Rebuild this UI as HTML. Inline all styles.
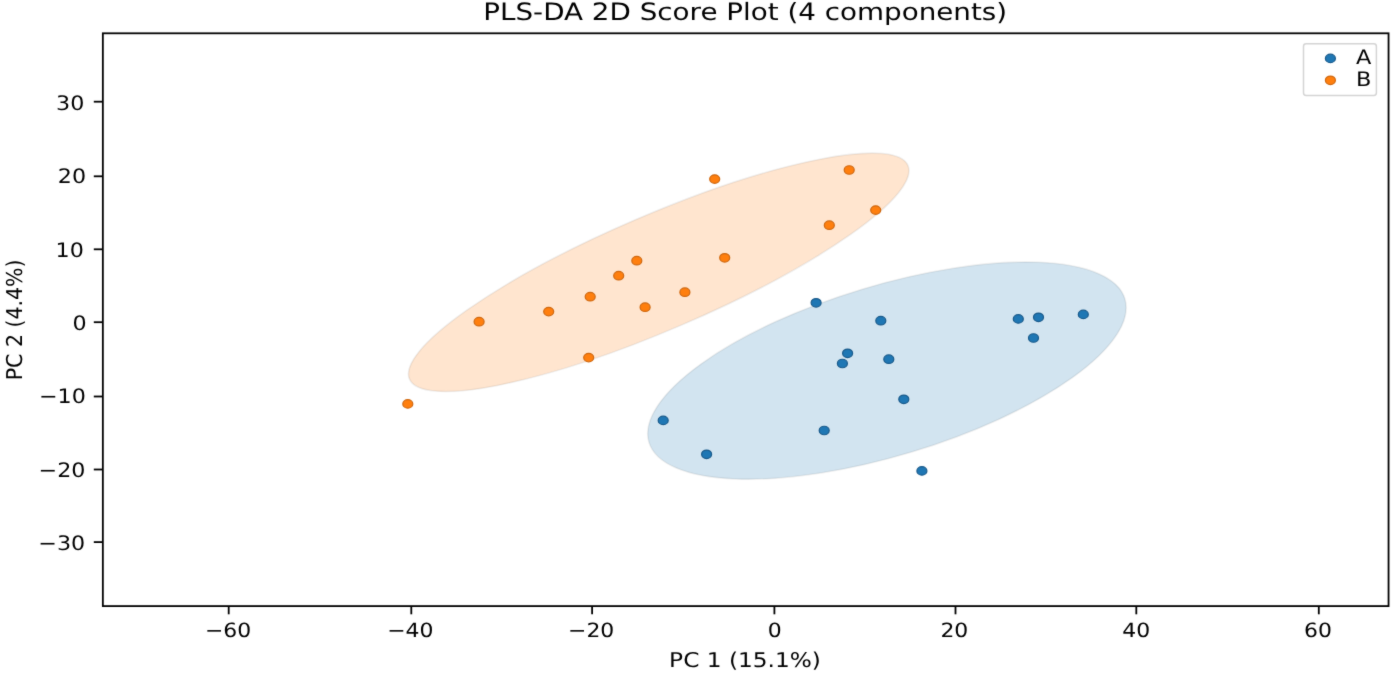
<!DOCTYPE html>
<html><head><meta charset="utf-8"><title>PLS-DA 2D Score Plot</title>
<style>
html,body{margin:0;padding:0;background:#fff;overflow:hidden}
svg{display:block}
.t{font-family:"DejaVu Sans","Liberation Sans",sans-serif;font-size:20.0px;fill:#000;text-rendering:geometricPrecision}
</style></head><body>
<svg width="1397" height="673" viewBox="0 0 1397 673">
<defs><filter id="soft" filterUnits="userSpaceOnUse" x="-10" y="-10" width="1417" height="693" color-interpolation-filters="sRGB"><feConvolveMatrix order="3" kernelMatrix="0.02 0.07 0.02 0.07 0.64 0.07 0.02 0.07 0.02" divisor="1" edgeMode="duplicate" preserveAlpha="true"/></filter></defs>
<g filter="url(#soft)">
<rect x="-10" y="-10" width="1417" height="693" fill="#fff"/>
<ellipse cx="658.72" cy="272.29" rx="271.13" ry="57.47" transform="rotate(156.80 658.72 272.29)" fill="#ff7f0e" fill-opacity="0.2" stroke="#000" stroke-opacity="0.07" stroke-width="1.6"/>
<ellipse cx="886.94" cy="370.62" rx="248.52" ry="85.04" transform="rotate(163.22 886.94 370.62)" fill="#1f77b4" fill-opacity="0.2" stroke="#000" stroke-opacity="0.07" stroke-width="1.6"/>
<ellipse cx="816.1" cy="302.8" rx="5.0" ry="4.25" fill="#1f77b4" stroke="#18598a" stroke-width="1.2"/>
<ellipse cx="880.8" cy="320.7" rx="5.0" ry="4.25" fill="#1f77b4" stroke="#18598a" stroke-width="1.2"/>
<ellipse cx="847.6" cy="353.3" rx="5.0" ry="4.25" fill="#1f77b4" stroke="#18598a" stroke-width="1.2"/>
<ellipse cx="842.4" cy="363.5" rx="5.0" ry="4.25" fill="#1f77b4" stroke="#18598a" stroke-width="1.2"/>
<ellipse cx="888.8" cy="359.2" rx="5.0" ry="4.25" fill="#1f77b4" stroke="#18598a" stroke-width="1.2"/>
<ellipse cx="903.8" cy="399.3" rx="5.0" ry="4.25" fill="#1f77b4" stroke="#18598a" stroke-width="1.2"/>
<ellipse cx="663.2" cy="420.4" rx="5.0" ry="4.25" fill="#1f77b4" stroke="#18598a" stroke-width="1.2"/>
<ellipse cx="706.6" cy="454.3" rx="5.0" ry="4.25" fill="#1f77b4" stroke="#18598a" stroke-width="1.2"/>
<ellipse cx="824.2" cy="430.5" rx="5.0" ry="4.25" fill="#1f77b4" stroke="#18598a" stroke-width="1.2"/>
<ellipse cx="921.9" cy="470.9" rx="5.0" ry="4.25" fill="#1f77b4" stroke="#18598a" stroke-width="1.2"/>
<ellipse cx="1018.3" cy="318.9" rx="5.0" ry="4.25" fill="#1f77b4" stroke="#18598a" stroke-width="1.2"/>
<ellipse cx="1038.5" cy="317.3" rx="5.0" ry="4.25" fill="#1f77b4" stroke="#18598a" stroke-width="1.2"/>
<ellipse cx="1033.5" cy="338.0" rx="5.0" ry="4.25" fill="#1f77b4" stroke="#18598a" stroke-width="1.2"/>
<ellipse cx="1083.3" cy="314.4" rx="5.0" ry="4.25" fill="#1f77b4" stroke="#18598a" stroke-width="1.2"/>
<ellipse cx="407.8" cy="403.9" rx="5.0" ry="4.25" fill="#ff7f0e" stroke="#cf670f" stroke-width="1.2"/>
<ellipse cx="479.1" cy="321.7" rx="5.0" ry="4.25" fill="#ff7f0e" stroke="#cf670f" stroke-width="1.2"/>
<ellipse cx="548.7" cy="311.6" rx="5.0" ry="4.25" fill="#ff7f0e" stroke="#cf670f" stroke-width="1.2"/>
<ellipse cx="590.2" cy="296.7" rx="5.0" ry="4.25" fill="#ff7f0e" stroke="#cf670f" stroke-width="1.2"/>
<ellipse cx="588.7" cy="357.6" rx="5.0" ry="4.25" fill="#ff7f0e" stroke="#cf670f" stroke-width="1.2"/>
<ellipse cx="636.8" cy="260.7" rx="5.0" ry="4.25" fill="#ff7f0e" stroke="#cf670f" stroke-width="1.2"/>
<ellipse cx="618.7" cy="275.7" rx="5.0" ry="4.25" fill="#ff7f0e" stroke="#cf670f" stroke-width="1.2"/>
<ellipse cx="684.9" cy="292.2" rx="5.0" ry="4.25" fill="#ff7f0e" stroke="#cf670f" stroke-width="1.2"/>
<ellipse cx="645.1" cy="307.2" rx="5.0" ry="4.25" fill="#ff7f0e" stroke="#cf670f" stroke-width="1.2"/>
<ellipse cx="724.7" cy="257.8" rx="5.0" ry="4.25" fill="#ff7f0e" stroke="#cf670f" stroke-width="1.2"/>
<ellipse cx="714.7" cy="179.1" rx="5.0" ry="4.25" fill="#ff7f0e" stroke="#cf670f" stroke-width="1.2"/>
<ellipse cx="849.2" cy="170.0" rx="5.0" ry="4.25" fill="#ff7f0e" stroke="#cf670f" stroke-width="1.2"/>
<ellipse cx="875.7" cy="210.1" rx="5.0" ry="4.25" fill="#ff7f0e" stroke="#cf670f" stroke-width="1.2"/>
<ellipse cx="829.3" cy="225.2" rx="5.0" ry="4.25" fill="#ff7f0e" stroke="#cf670f" stroke-width="1.2"/>
<rect x="102.85" y="33.3" width="1285.7" height="572.8" fill="none" stroke="#000" stroke-width="1.8"/>
<line x1="228.70" y1="606.1" x2="228.70" y2="614.3" stroke="#000" stroke-width="1.8"/>
<text transform="translate(228.07 636.9) scale(1.1173 1)" text-anchor="middle" class="t" style="font-size:19.6px">−60</text>
<line x1="411.30" y1="606.1" x2="411.30" y2="614.3" stroke="#000" stroke-width="1.8"/>
<text transform="translate(410.37 636.9) scale(1.1173 1)" text-anchor="middle" class="t" style="font-size:19.6px">−40</text>
<line x1="592.10" y1="606.1" x2="592.10" y2="614.3" stroke="#000" stroke-width="1.8"/>
<text transform="translate(591.17 636.9) scale(1.1173 1)" text-anchor="middle" class="t" style="font-size:19.6px">−20</text>
<line x1="774.40" y1="606.1" x2="774.40" y2="614.3" stroke="#000" stroke-width="1.8"/>
<text transform="translate(774.70 636.9) scale(1.1173 1)" text-anchor="middle" class="t" style="font-size:19.6px">0</text>
<line x1="955.50" y1="606.1" x2="955.50" y2="614.3" stroke="#000" stroke-width="1.8"/>
<text transform="translate(954.33 636.9) scale(1.1173 1)" text-anchor="middle" class="t" style="font-size:19.6px">20</text>
<line x1="1136.30" y1="606.1" x2="1136.30" y2="614.3" stroke="#000" stroke-width="1.8"/>
<text transform="translate(1136.19 636.9) scale(1.1173 1)" text-anchor="middle" class="t" style="font-size:19.6px">40</text>
<line x1="1318.80" y1="606.1" x2="1318.80" y2="614.3" stroke="#000" stroke-width="1.8"/>
<text transform="translate(1317.91 636.9) scale(1.1173 1)" text-anchor="middle" class="t" style="font-size:19.6px">60</text>
<line x1="93.8" y1="542.10" x2="102.85" y2="542.10" stroke="#000" stroke-width="1.8"/>
<text transform="translate(85.17 550.46) scale(1.1099999999999999 1)" text-anchor="end" class="t" style="font-size:20.0px">−30</text>
<line x1="93.8" y1="469.50" x2="102.85" y2="469.50" stroke="#000" stroke-width="1.8"/>
<text transform="translate(85.47 477.36) scale(1.1099999999999999 1)" text-anchor="end" class="t" style="font-size:20.0px">−20</text>
<line x1="93.8" y1="396.50" x2="102.85" y2="396.50" stroke="#000" stroke-width="1.8"/>
<text transform="translate(85.87 403.06) scale(1.1099999999999999 1)" text-anchor="end" class="t" style="font-size:20.0px">−10</text>
<line x1="93.8" y1="322.20" x2="102.85" y2="322.20" stroke="#000" stroke-width="1.8"/>
<text transform="translate(86.67 329.86) scale(1.1099999999999999 1)" text-anchor="end" class="t" style="font-size:20.0px">0</text>
<line x1="93.8" y1="249.30" x2="102.85" y2="249.30" stroke="#000" stroke-width="1.8"/>
<text transform="translate(83.87 257.26) scale(1.1099999999999999 1)" text-anchor="end" class="t" style="font-size:20.0px">10</text>
<line x1="93.8" y1="176.30" x2="102.85" y2="176.30" stroke="#000" stroke-width="1.8"/>
<text transform="translate(86.07 182.86) scale(1.1099999999999999 1)" text-anchor="end" class="t" style="font-size:20.0px">20</text>
<line x1="93.8" y1="101.70" x2="102.85" y2="101.70" stroke="#000" stroke-width="1.8"/>
<text transform="translate(84.27 109.66) scale(1.1099999999999999 1)" text-anchor="end" class="t" style="font-size:20.0px">30</text>
<text transform="translate(745.0 666.8) scale(1.146 1)" text-anchor="middle" class="t" style="font-size:20.3px">PC 1 (15.1%)</text>
<text transform="translate(21.8 319.9) rotate(-90) scale(1.025 1.09)" text-anchor="middle" class="t">PC 2 (4.4%)</text>
<text transform="translate(745.2 20.4) scale(1.162 1)" text-anchor="middle" class="t" style="font-size:23.9px">PLS-DA 2D Score Plot (4 components)</text>
<rect x="1303.5" y="43.8" width="72.9" height="51.6" rx="2.6" ry="2.6" fill="#fff" fill-opacity="0.8" stroke="#d4d4d4" stroke-width="1.5"/>
<ellipse cx="1330.4" cy="58.4" rx="5.0" ry="4.25" fill="#1f77b4" stroke="#18598a" stroke-width="1.2"/>
<ellipse cx="1330.4" cy="80.3" rx="5.0" ry="4.25" fill="#ff7f0e" stroke="#cf670f" stroke-width="1.2"/>
<text transform="translate(1356 63.8) scale(1.12 1)" class="t">A</text>
<text transform="translate(1356 85.8) scale(1.12 1)" class="t">B</text>
</g>
</svg>
</body></html>
